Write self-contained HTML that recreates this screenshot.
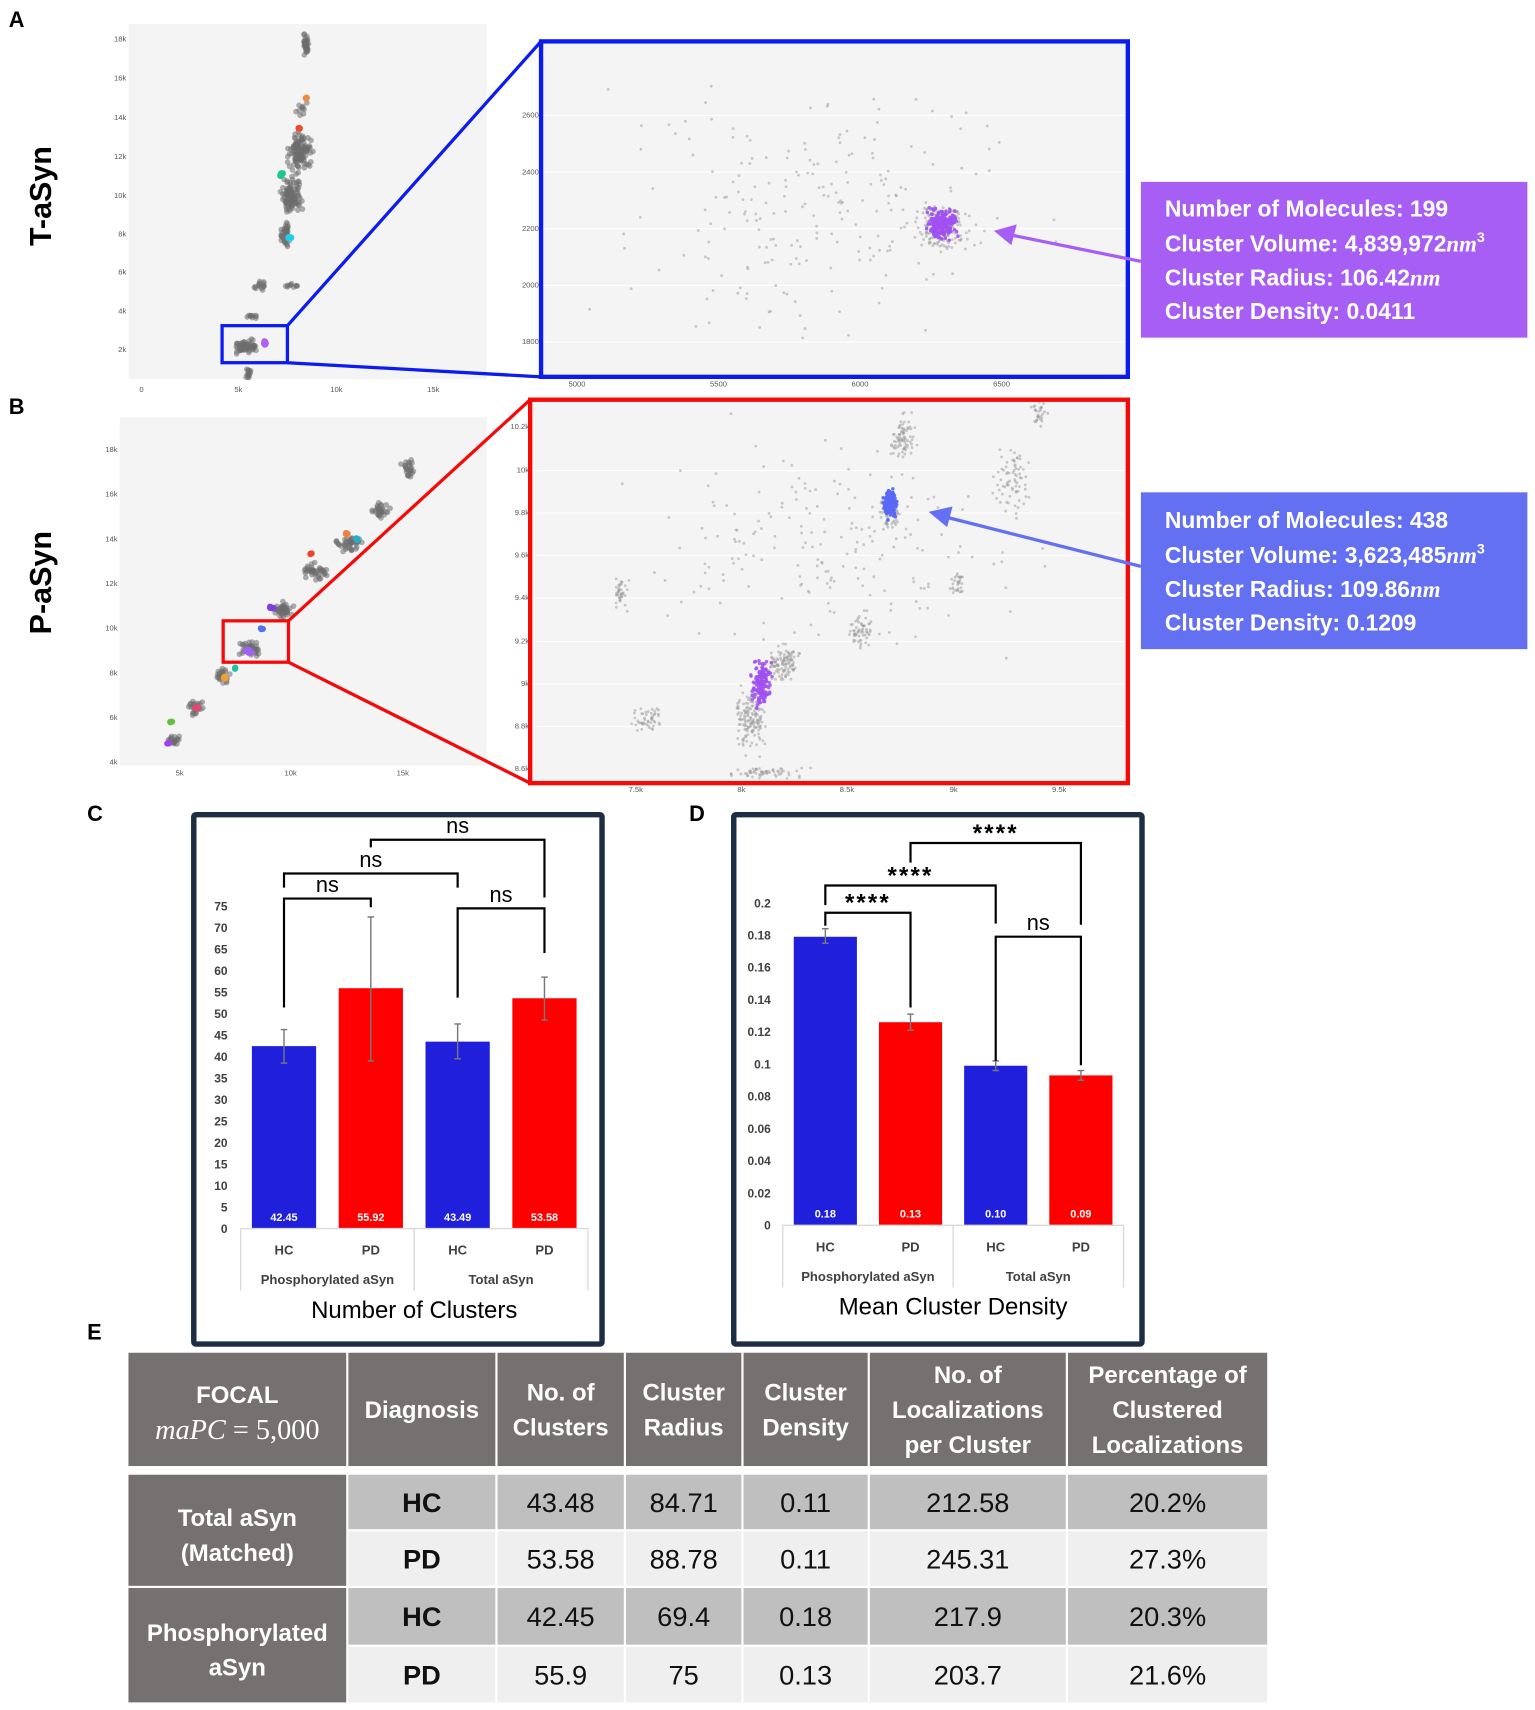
<!DOCTYPE html>
<html><head><meta charset="utf-8"><style>
html,body{margin:0;padding:0;background:#fff;}
svg{display:block;font-family:"Liberation Sans",sans-serif;}
</style></head><body>
<svg id="fig" width="1535" height="1710" viewBox="0 0 1410 1570" preserveAspectRatio="none">
<text x="8" y="25" font-size="20" font-weight="bold">A</text>
<text x="8" y="380" font-size="20" font-weight="bold">B</text>
<text x="80" y="754" font-size="20" font-weight="bold">C</text>
<text x="633" y="754" font-size="20" font-weight="bold">D</text>
<text x="80" y="1230" font-size="20" font-weight="bold">E</text>
<text transform="translate(47,180) rotate(-90)" text-anchor="middle" font-size="28" font-weight="bold">T-aSyn</text>
<text transform="translate(47,535) rotate(-90)" text-anchor="middle" font-size="28" font-weight="bold">P-aSyn</text>

<g>
<rect x="118" y="22" width="329" height="326" fill="#f4f4f4"/>
<g id="gA"></g>
<g font-size="7" fill="#555" text-anchor="end">
<text x="116" y="38">18k</text><text x="116" y="74">16k</text><text x="116" y="110">14k</text><text x="116" y="146">12k</text><text x="116" y="182">10k</text><text x="116" y="217">8k</text><text x="116" y="252">6k</text><text x="116" y="288">4k</text><text x="116" y="323">2k</text>
</g>
<g font-size="7" fill="#555" text-anchor="middle">
<text x="130" y="360">0</text><text x="219" y="360">5k</text><text x="309" y="360">10k</text><text x="398" y="360">15k</text>
</g>
</g>
<g>
<rect x="497" y="38" width="539" height="308" fill="#f4f4f4"/>
<g stroke="#fff" stroke-width="1"><line x1="497" y1="106" x2="1036" y2="106"/><line x1="497" y1="158" x2="1036" y2="158"/><line x1="497" y1="210" x2="1036" y2="210"/><line x1="497" y1="262" x2="1036" y2="262"/><line x1="497" y1="314" x2="1036" y2="314"/></g>
<g id="gA2"></g>
<g font-size="7" fill="#555" text-anchor="end">
<text x="495" y="108">2600</text><text x="495" y="160">2400</text><text x="495" y="212">2200</text><text x="495" y="264">2000</text><text x="495" y="316">1800</text>
</g>
<g font-size="7" fill="#555" text-anchor="middle">
<text x="530" y="355">5000</text><text x="660" y="355">5500</text><text x="790" y="355">6000</text><text x="920" y="355">6500</text>
</g>
<rect x="497" y="38" width="539" height="308" fill="none" stroke="#0a1cf0" stroke-width="4"/>
</g>
<rect x="204" y="299" width="60" height="34" fill="none" stroke="#0a1cf0" stroke-width="3"/>
<line x1="264" y1="299" x2="497" y2="38" stroke="#0a1cf0" stroke-width="3"/>
<line x1="264" y1="333" x2="497" y2="346" stroke="#0a1cf0" stroke-width="3"/>
<g>
<rect x="1048" y="167" width="355" height="143" fill="#a65ef5"/>
<g fill="#fff" font-size="21" font-weight="bold">
<text x="1070" y="199">Number of Molecules: 199</text>
<text x="1070" y="231">Cluster Volume: 4,839,972<tspan font-family="Liberation Serif" font-style="italic">nm</tspan><tspan font-size="13" dy="-9">3</tspan></text>
<text x="1070" y="262">Cluster Radius: 106.42<tspan font-family="Liberation Serif" font-style="italic">nm</tspan></text>
<text x="1070" y="293">Cluster Density: 0.0411</text>
</g></g>
<line x1="1048" y1="240" x2="930" y2="216" stroke="#a65ef5" stroke-width="3"/>
<polygon points="913,212 934,206 929,225" fill="#a65ef5"/>

<g>
<rect x="110" y="383" width="337" height="320" fill="#f4f4f4"/>
<g id="gB"></g>
<g font-size="7" fill="#555" text-anchor="end">
<text x="108" y="415">18k</text><text x="108" y="456">16k</text><text x="108" y="497">14k</text><text x="108" y="538">12k</text><text x="108" y="579">10k</text><text x="108" y="620">8k</text><text x="108" y="661">6k</text><text x="108" y="702">4k</text>
</g>
<g font-size="7" fill="#555" text-anchor="middle">
<text x="165" y="712">5k</text><text x="267" y="712">10k</text><text x="370" y="712">15k</text>
</g>
</g>
<g>
<rect x="487" y="367" width="549" height="352" fill="#f4f4f4"/>
<g stroke="#fff" stroke-width="1"><line x1="487" y1="432" x2="1036" y2="432"/><line x1="487" y1="471" x2="1036" y2="471"/><line x1="487" y1="510" x2="1036" y2="510"/><line x1="487" y1="549" x2="1036" y2="549"/><line x1="487" y1="589" x2="1036" y2="589"/><line x1="487" y1="628" x2="1036" y2="628"/><line x1="487" y1="667" x2="1036" y2="667"/></g>
<g id="gB2"></g>
<g font-size="7" fill="#555" text-anchor="end">
<text x="486" y="394">10.2k</text><text x="486" y="434">10k</text><text x="486" y="473">9.8k</text><text x="486" y="512">9.6k</text><text x="486" y="551">9.4k</text><text x="486" y="591">9.2k</text><text x="486" y="630">9k</text><text x="486" y="669">8.8k</text><text x="486" y="708">8.6k</text>
</g>
<g font-size="7" fill="#555" text-anchor="middle">
<text x="584" y="727">7.5k</text><text x="681" y="727">8k</text><text x="778" y="727">8.5k</text><text x="876" y="727">9k</text><text x="973" y="727">9.5k</text>
</g>
<rect x="487" y="367" width="549" height="352" fill="none" stroke="#f50a0a" stroke-width="4"/>
</g>
<rect x="205" y="570" width="60" height="38" fill="none" stroke="#f50a0a" stroke-width="3"/>
<line x1="265" y1="570" x2="487" y2="367" stroke="#f50a0a" stroke-width="3"/>
<line x1="265" y1="608" x2="487" y2="719" stroke="#f50a0a" stroke-width="3"/>
<g>
<rect x="1048" y="452" width="355" height="144" fill="#6470f2"/>
<g fill="#fff" font-size="21" font-weight="bold">
<text x="1070" y="485">Number of Molecules: 438</text>
<text x="1070" y="517">Cluster Volume: 3,623,485<tspan font-family="Liberation Serif" font-style="italic">nm</tspan><tspan font-size="13" dy="-9">3</tspan></text>
<text x="1070" y="548">Cluster Radius: 109.86<tspan font-family="Liberation Serif" font-style="italic">nm</tspan></text>
<text x="1070" y="579">Cluster Density: 0.1209</text>
</g></g>
<line x1="1048" y1="520" x2="870" y2="475" stroke="#6470f2" stroke-width="3"/>
<polygon points="853,470 875,465 870,484" fill="#6470f2"/>

<rect x="178" y="748" width="375" height="486" fill="#fff" stroke="#1c2d44" stroke-width="5" rx="2"/>
<g id="chartC"></g>
<rect x="674" y="748" width="375" height="486" fill="#fff" stroke="#1c2d44" stroke-width="5" rx="2"/>
<g id="chartD"></g>

<g id="tableE"></g>
</svg>
<script>
const catLabels = ["HC","PD","HC","PD"];
const groupLabels = ["Phosphorylated aSyn","Total aSyn"];
const countValues = [42.45, 55.92, 43.49, 53.58];
const countLabels = ["42.45","55.92","43.49","53.58"];
const countErrLow = [38.5, 39.0, 39.5, 48.5];
const countErrHigh = [46.3, 72.5, 47.6, 58.5];
const countTicks = [0,5,10,15,20,25,30,35,40,45,50,55,60,65,70,75];
const densityValues = [0.179, 0.126, 0.099, 0.093];
const densityLabels = ["0.18","0.13","0.10","0.09"];
const densityErrLow = [0.175, 0.121, 0.096, 0.090];
const densityErrHigh = [0.184, 0.131, 0.102, 0.096];
const densityTicks = ["0","0.02","0.04","0.06","0.08","0.1","0.12","0.14","0.16","0.18","0.2"];
const barColors = ["#2020dc","#ff0000","#2020dc","#ff0000"];
const countSig = [[0,1,"ns"],[0,2,"ns"],[1,3,"ns"],[2,3,"ns"]];
const densitySig = [[0,1,"****"],[0,2,"****"],[1,3,"****"],[2,3,"ns"]];

const NS = "http://www.w3.org/2000/svg";
function mk(parent, tag, attrs, txt){
  const e = document.createElementNS(NS, tag);
  for (const k in attrs) e.setAttribute(k, attrs[k]);
  if (txt !== undefined) e.textContent = txt;
  parent.appendChild(e); return e;
}

function drawBars(g, cfg){
  const yScale = v => cfg.y0 - (v - cfg.vmin) / (cfg.vmax - cfg.vmin) * (cfg.y0 - cfg.y1);
  const xCenter = i => cfg.x0 + cfg.step * i + cfg.step/2;
  cfg.ticks.forEach(t => {
    const tx = mk(g, "text", {x: cfg.tickX, y: yScale(parseFloat(t)) + 4, "font-size": 11, "font-weight": "bold", fill: "#404040", "text-anchor": "end"}, String(t));
    
    
  });
  cfg.values.forEach((v, i) => {
    const cx = xCenter(i);
    const r = mk(g, "rect", {x: cx - cfg.bw/2, y: yScale(v), width: cfg.bw, height: cfg.y0 - yScale(v), fill: barColors[i]});
    
    
    const eb = mk(g, "g", {stroke: "#777", "stroke-width": 1.3});
    
    
    mk(eb, "line", {x1: cx, x2: cx, y1: yScale(cfg.lo[i]), y2: yScale(cfg.hi[i])});
    mk(eb, "line", {x1: cx-3, x2: cx+3, y1: yScale(cfg.lo[i]), y2: yScale(cfg.lo[i])});
    mk(eb, "line", {x1: cx-3, x2: cx+3, y1: yScale(cfg.hi[i]), y2: yScale(cfg.hi[i])});
    const vl = mk(g, "text", {x: cx, y: cfg.y0 - 7, "font-size": 10, "font-weight": "bold", fill: "#fff", "text-anchor": "middle"}, cfg.labels[i]);
    
    
    const cl = mk(g, "text", {x: cx, y: cfg.y0 + 24, "font-size": 12, "font-weight": "bold", fill: "#404040", "text-anchor": "middle"}, catLabels[i]);
    
    
  });
  const ax = mk(g, "g", {stroke: "#d9d9d9", "stroke-width": 1.2});
  
  
  const xr = cfg.x0 + cfg.step*4;
  mk(ax, "line", {x1: cfg.x0, x2: xr, y1: cfg.y0, y2: cfg.y0});
  [cfg.x0, cfg.x0 + cfg.step*2, xr].forEach(x => mk(ax, "line", {x1: x, x2: x, y1: cfg.y0, y2: cfg.y0 + 57}));
  groupLabels.forEach((gl, j) => {
    const t = mk(g, "text", {x: cfg.x0 + cfg.step*(2*j+1), y: cfg.y0 + 51, "font-size": 12, "font-weight": "bold", fill: "#404040", "text-anchor": "middle"}, gl);
    
    
  });
  const ti = mk(g, "text", {x: cfg.x0 + cfg.step*2, y: cfg.y0 + 82, "font-size": 22, fill: "#000", "text-anchor": "middle"}, cfg.title);
  
  
  cfg.sig.forEach((s, k) => {
    const [a, b, lab] = s;
    const geo = cfg.sigGeo[k];
    const bg = mk(g, "g", {});
    
    
    mk(bg, "polyline", {points: `${xCenter(a)},${geo[0]} ${xCenter(a)},${geo[2]} ${xCenter(b)},${geo[2]} ${xCenter(b)},${geo[1]}`, fill: "none", stroke: "#000", "stroke-width": 2});
    const isStar = lab.indexOf("*") >= 0;
    mk(bg, "text", {x: (xCenter(a)+xCenter(b))/2, y: geo[2] - (isStar ? 2 : 6), "font-size": isStar ? 22 : 20, "font-weight": isStar ? "bold" : "normal", "letter-spacing": isStar ? 2 : 0, "text-anchor": "middle", fill: "#000"}, lab);
  });
}

drawBars(document.getElementById("chartC"), {
  x0: 221, step: 79.75, bw: 59, y0: 1128, y1: 832, vmin: 0, vmax: 75, tickX: 209,
  ticks: countTicks, values: countValues, labels: countLabels, lo: countErrLow, hi: countErrHigh,
  title: "Number of Clusters", sig: countSig,
  sigGeo: [[925, 833, 825], [815, 815, 802], [778, 824, 771], [916, 875, 834]]
});
drawBars(document.getElementById("chartD"), {
  x0: 719, step: 78.25, bw: 58, y0: 1125, y1: 829, vmin: 0, vmax: 0.2, tickX: 708,
  ticks: densityTicks, values: densityValues, labels: densityLabels, lo: densityErrLow, hi: densityErrHigh,
  title: "Mean Cluster Density", sig: densitySig,
  sigGeo: [[850, 925, 838], [831, 848, 813], [792, 849, 774], [974, 978, 860]]
});

const tableHeaders = ["Diagnosis","No. of|Clusters","Cluster|Radius","Cluster|Density","No. of|Localizations|per Cluster","Percentage of|Clustered|Localizations"];
const tableRows = [
  ["HC","43.48","84.71","0.11","212.58","20.2%"],
  ["PD","53.58","88.78","0.11","245.31","27.3%"],
  ["HC","42.45","69.4","0.18","217.9","20.3%"],
  ["PD","55.9","75","0.13","203.7","21.6%"]
];
(function(){
  const g = document.getElementById("tableE");
  const cols = [[118,200],[320,135],[457,116],[575,106],[683,114],[799,180],[981,183]];
  const rowsY = [[1354,50],[1406,50],[1458,52],[1512,51]];
  const c = mk(g, "g", {});
  const fc = mk(c, "rect", {x: cols[0][0], y: 1242, width: cols[0][1], height: 104, fill: "#767171"});
  
  
  mk(c, "text", {x: 218, y: 1288, "font-size": 22, "font-weight": "bold", fill: "#fff", "text-anchor": "middle"}, "FOCAL");
  const t = mk(c, "text", {x: 218, y: 1321, "font-size": 26, "font-family": "Liberation Serif", fill: "#fff", "text-anchor": "middle"});
  mk(t, "tspan", {"font-style": "italic"}, "maPC");
  mk(t, "tspan", {}, " = 5,000");
  tableHeaders.forEach((h, i) => {
    const [x, w] = cols[i+1];
    const hc = mk(c, "rect", {x: x, y: 1242, width: w, height: 104, fill: "#767171"});
    
    
    const lines = h.split("|");
    const lh = 32, start = 1294 - (lines.length - 1) * lh / 2 + 8;
    lines.forEach((l, j) => mk(c, "text", {x: x + w/2, y: start + j*lh, "font-size": 22, "font-weight": "bold", fill: "#fff", "text-anchor": "middle"}, l));
  });
  [["Total aSyn","(Matched)",1354,102],["Phosphorylated","aSyn",1458,105]].forEach(gr => {
    const r = mk(c, "rect", {x: 118, y: gr[2], width: 200, height: gr[3], fill: "#767171"});
    
    
    mk(c, "text", {x: 218, y: gr[2] + gr[3]/2 - 4, "font-size": 22, "font-weight": "bold", fill: "#fff", "text-anchor": "middle"}, gr[0]);
    mk(c, "text", {x: 218, y: gr[2] + gr[3]/2 + 28, "font-size": 22, "font-weight": "bold", fill: "#fff", "text-anchor": "middle"}, gr[1]);
  });
  tableRows.forEach((row, ri) => {
    const [y, h] = rowsY[ri];
    row.forEach((v, ci) => {
      const [x, w] = cols[ci+1];
      const cell = mk(c, "rect", {x: x, y: y, width: w, height: h, fill: ri % 2 === 0 ? "#bfbfbf" : "#efefef"});
      
      
      mk(c, "text", {x: x + w/2, y: y + h/2 + 9, "font-size": 25, "font-weight": ci === 0 ? "bold" : "normal", fill: "#111", "text-anchor": "middle"}, v);
    });
  });
})();

// Decorative micrograph texture (seeded)
let seed = 12345;
function rnd(){ seed = (seed * 1103515245 + 12345) & 0x7fffffff; return seed / 0x7fffffff; }
function gauss(){ return (rnd() + rnd() + rnd() - 1.5) / 1.5; }
function blobs(gid, list, r, op){
  const g = document.getElementById(gid);
  let s = "";
  list.forEach(b => {
    const [cx, cy, sx, sy, n, col] = b;
    for (let i = 0; i < n; i++) {
      s += `<circle cx="${(cx + gauss()*sx).toFixed(1)}" cy="${(cy + gauss()*sy).toFixed(1)}" r="${r}" fill="${col}" opacity="${op}"/>`;
    }
  });
  g.innerHTML += s;
}
const G = "#6e6e6e";
blobs("gA", [[281,40,5,14,40,G],[277,100,8,8,10,G],[275,140,14,20,120,G],[268,180,12,25,110,G],[262,215,6,15,40,G],[240,262,8,6,15,G],[268,262,10,3,10,G],[232,290,6,3,10,G],[225,318,15,8,70,G],[228,342,4,6,15,G]], 2.6, 0.55);
blobs("gA", [[281,90,1,1,3,"#f08a3c"],[275,118,2,1,5,"#f04a2a"],[258,160,2,2,6,"#1cc88a"],[266,218,2,1,5,"#18d0f0"],[243,315,2,3,10,"#b060f0"]], 3, 1);
blobs("gB", [[160,680,10,8,20,G],[180,650,10,10,25,G],[205,620,10,10,30,G],[230,595,12,10,40,G],[260,560,12,10,45,G],[290,525,15,10,40,G],[320,500,15,10,40,G],[350,470,12,10,30,G],[375,430,8,15,25,G]], 2.6, 0.55);
blobs("gB", [[155,682,2,2,5,"#a040f0"],[157,663,2,1,4,"#60c040"],[180,650,3,2,5,"#f04070"],[207,622,2,2,5,"#f0a030"],[216,613,1,2,4,"#20c0a0"],[228,598,4,3,10,"#a060f0"],[240,578,2,2,4,"#5070f0"],[250,558,4,2,8,"#8040e0"],[285,508,2,2,4,"#f04030"],[318,490,2,2,4,"#f08040"],[328,495,2,2,4,"#20b0d0"]], 2.8, 1);
blobs("gA2", [[760,190,260,150,220,"#999"],[865,210,30,30,200,"#999"]], 1.3, 0.5);
blobs("gA2", [[865,205,18,18,190,"#a050f0"]], 1.6, 0.9);
blobs("gB2", [[830,400,15,30,80,"#999"],[818,470,12,25,60,"#999"],[570,545,10,20,40,"#999"],[595,660,20,20,50,"#999"],[690,660,20,40,150,"#999"],[720,610,20,25,110,"#999"],[790,580,15,25,60,"#999"],[700,710,50,8,60,"#999"],[930,440,20,40,70,"#999"],[880,535,10,15,30,"#999"],[760,500,230,130,200,"#999"],[955,380,10,20,30,"#999"]], 1.3, 0.5);
blobs("gB2", [[818,462,8,16,220,"#5a68f4"]], 1.6, 0.95);
blobs("gB2", [[700,628,12,28,160,"#a050f0"]], 1.6, 0.85);
</script>
</body></html>
